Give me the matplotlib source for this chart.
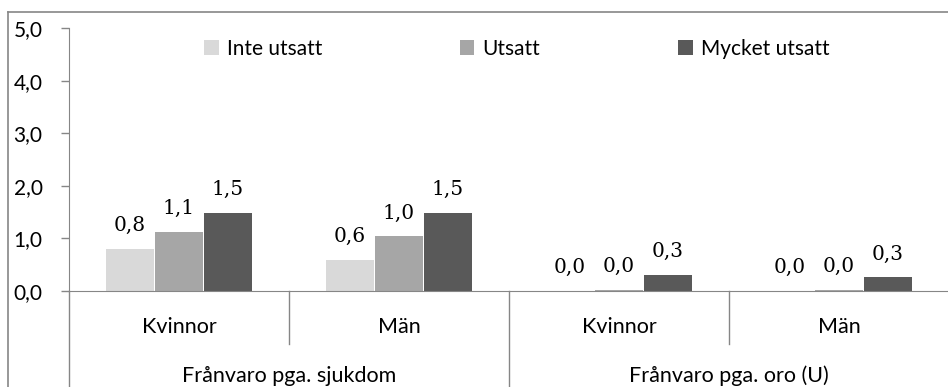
import matplotlib
matplotlib.use("Agg")
import matplotlib.pyplot as plt
from matplotlib.lines import Line2D
from matplotlib.patches import Patch
import matplotlib.transforms as mtransforms
import numpy as np

# Data
categories = ["Kvinnor", "Män", "Kvinnor", "Män"]
groups = ["Frånvaro pga. sjukdom", "Frånvaro pga. oro (U)"]
series_names = ["Inte utsatt", "Utsatt", "Mycket utsatt"]
inte_utsatt = [0.8, 0.59, 0.0, 0.0]
utsatt = [1.12, 1.04, 0.02, 0.02]
mycket_utsatt = [1.48, 1.48, 0.31, 0.26]
y_ticks = [0, 1, 2, 3, 4, 5]

colors = ["#D9D9D9", "#A6A6A6", "#595959"]
axis_color = "#868686"
sans = "Lato"
serif = "DejaVu Serif"

W, H = 948, 387
fig = plt.figure(figsize=(W / 100, H / 100), dpi=100)
fig.patch.set_facecolor("white")

x0_px, x1_px = 69, 949
y0_px, y5_px = 291, 28
ax = fig.add_axes([x0_px / W, (H - y0_px) / H, (x1_px - x0_px) / W, (y0_px - y5_px) / H])

x = np.arange(len(categories))
width = 0.22
offsets = [-0.223, 0.0, 0.223]
all_series = [inte_utsatt, utsatt, mycket_utsatt]

for vals, off, col in zip(all_series, offsets, colors):
    bars = ax.bar(x + off, vals, width=width, color=col, edgecolor="none", zorder=2)
    for b, v in zip(bars, vals):
        ax.annotate(f"{v:.1f}".replace(".", ","),
                    xy=(b.get_x() + b.get_width() / 2, b.get_height()),
                    xytext=(0, 10), textcoords="offset points",
                    ha="center", va="bottom", fontsize=14.5, family=serif,
                    color="black")

ax.set_xlim(-0.5, 3.5)
ax.set_ylim(0, 5)
ax.set_yticks(y_ticks)
ax.set_yticklabels([f"{t:.1f}".replace(".", ",") for t in y_ticks],
                   fontsize=15, family=sans)
ax.tick_params(axis="y", direction="out", length=6, width=1, color=axis_color,
               pad=13)
ax.set_xticks([])
for s in ["top", "right"]:
    ax.spines[s].set_visible(False)
ax.spines["left"].set_color(axis_color)
ax.spines["bottom"].set_color(axis_color)
ax.set_facecolor("none")

# Multi-level category axis
trans = mtransforms.blended_transform_factory(ax.transData, ax.transAxes)
span = y0_px - y5_px
short_y = -(344 - y0_px) / span
long_y = -(H - y0_px + 2) / span
for xs, ybot in [(-0.5, long_y), (0.5, short_y), (1.5, long_y), (2.5, short_y)]:
    ax.add_line(Line2D([xs, xs], [0, ybot], transform=trans, color=axis_color,
                       lw=1, clip_on=False))

cat_y = -(327 - y0_px) / span
for xi, c in zip(x, categories):
    ax.text(xi, cat_y, c, transform=trans, ha="center", va="center",
            fontsize=15.5, family=sans, color="black")
grp_y = -(386 - y0_px) / span
for gi, g in enumerate(groups):
    ax.text(0.5 + 2 * gi, grp_y, g, transform=trans, ha="center", va="bottom",
            fontsize=15.5, family=sans, color="black")

# Legend
handles = [Patch(facecolor=c, edgecolor="none") for c in colors]
leg = ax.legend(handles, series_names, ncol=3, loc="center left",
                bbox_to_anchor=((204 - x0_px) / (x1_px - x0_px), (y0_px - 49) / span),
                frameon=False, prop={"family": sans, "size": 15},
                handlelength=0.7, handleheight=0.7, handletextpad=0.4,
                columnspacing=6.6, borderpad=0, borderaxespad=0)

# Outer chart border
fig.add_artist(Line2D([8 / W, 1], [1 - 12 / H, 1 - 12 / H], transform=fig.transFigure,
                      color=axis_color, lw=1.2))
fig.add_artist(Line2D([8 / W, 8 / W], [0, 1 - 12 / H], transform=fig.transFigure,
                      color=axis_color, lw=1.2))

fig.savefig("out.png", dpi=100)
